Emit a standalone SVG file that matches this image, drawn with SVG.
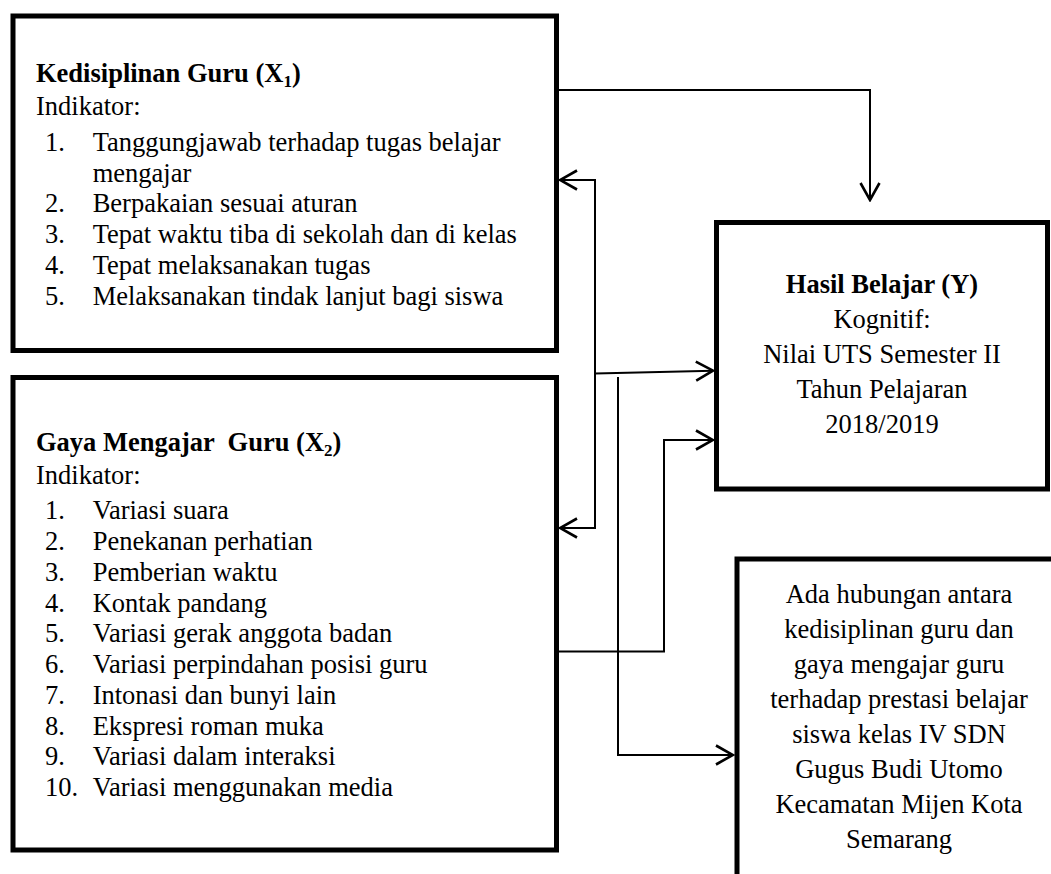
<svg xmlns="http://www.w3.org/2000/svg" width="1051" height="874" viewBox="0 0 1051 874">
  <style>
    .box { fill: #ffffff; stroke: #000000; stroke-width: 5; }
    .t { font-family: "Liberation Serif", "Times New Roman", serif; font-size: 26.5px; fill: #000000; }
    .b { font-weight: bold; }
    .c { text-anchor: middle; }
    .sub { font-size: 17px; }
    .conn { fill: none; stroke: #000000; stroke-width: 2; }
  </style>
  <defs>
    <marker id="arrow" markerUnits="userSpaceOnUse" viewBox="-20 -12 22 24" refX="0" refY="0" markerWidth="22" markerHeight="24" orient="auto-start-reverse">
      <path d="M-17,-9.5 L0,0 L-17,9.5" fill="none" stroke="#000000" stroke-width="2.6"/>
    </marker>
  </defs>
  <rect x="0" y="0" width="1051" height="874" fill="#ffffff"/>

  <g id="node-x1">
    <rect class="box" x="13" y="16" width="543.5" height="334.5"/>
    <text class="t b" x="36" y="81.7">Kedisiplinan Guru (X<tspan class="sub" dy="5">1</tspan><tspan dy="-5">)</tspan></text>
    <text class="t" x="36" y="115">Indikator:</text>
    <text class="t" x="45" y="150.7">1.</text>
    <text class="t" x="92.7" y="150.7">Tanggungjawab terhadap tugas belajar</text>
    <text class="t" x="92.7" y="181.5">mengajar</text>
    <text class="t" x="45" y="212.3">2.</text>
    <text class="t" x="92.7" y="212.3">Berpakaian sesuai aturan</text>
    <text class="t" x="45" y="243.1">3.</text>
    <text class="t" x="92.7" y="243.1">Tepat waktu tiba di sekolah dan di kelas</text>
    <text class="t" x="45" y="273.9">4.</text>
    <text class="t" x="92.7" y="273.9">Tepat melaksanakan tugas</text>
    <text class="t" x="45" y="304.7">5.</text>
    <text class="t" x="92.7" y="304.7">Melaksanakan tindak lanjut bagi siswa</text>
  </g>

  <g id="node-x2">
    <rect class="box" x="13" y="377.5" width="543.5" height="472.5"/>
    <text class="t b" x="36" y="450.7" xml:space="preserve">Gaya Mengajar  Guru (X<tspan class="sub" dy="5">2</tspan><tspan dy="-5">)</tspan></text>
    <text class="t" x="36" y="484">Indikator:</text>
    <text class="t" x="45" y="519.3">1.</text>
    <text class="t" x="92.7" y="519.3">Variasi suara</text>
    <text class="t" x="45" y="550">2.</text>
    <text class="t" x="92.7" y="550">Penekanan perhatian</text>
    <text class="t" x="45" y="580.8">3.</text>
    <text class="t" x="92.7" y="580.8">Pemberian waktu</text>
    <text class="t" x="45" y="611.5">4.</text>
    <text class="t" x="92.7" y="611.5">Kontak pandang</text>
    <text class="t" x="45" y="642.3">5.</text>
    <text class="t" x="92.7" y="642.3">Variasi gerak anggota badan</text>
    <text class="t" x="45" y="673">6.</text>
    <text class="t" x="92.7" y="673">Variasi perpindahan posisi guru</text>
    <text class="t" x="45" y="703.8">7.</text>
    <text class="t" x="92.7" y="703.8">Intonasi dan bunyi lain</text>
    <text class="t" x="45" y="734.5">8.</text>
    <text class="t" x="92.7" y="734.5">Ekspresi roman muka</text>
    <text class="t" x="45" y="765.3">9.</text>
    <text class="t" x="92.7" y="765.3">Variasi dalam interaksi</text>
    <text class="t" x="45" y="796">10.</text>
    <text class="t" x="92.7" y="796">Variasi menggunakan media</text>
  </g>

  <g id="node-y">
    <rect class="box" x="716.5" y="222.5" width="331" height="266.5"/>
    <text class="t b c" x="882" y="292.7">Hasil Belajar (Y)</text>
    <text class="t c" x="882" y="327.7">Kognitif:</text>
    <text class="t c" x="882" y="362.7">Nilai UTS Semester II</text>
    <text class="t c" x="882" y="397.7">Tahun Pelajaran</text>
    <text class="t c" x="882" y="432.7">2018/2019</text>
  </g>

  <g id="node-conclusion">
    <rect class="box" x="737" y="559" width="420" height="400"/>
    <text class="t c" x="899" y="602.7">Ada hubungan antara</text>
    <text class="t c" x="899" y="637.8">kedisiplinan guru dan</text>
    <text class="t c" x="899" y="672.9">gaya mengajar guru</text>
    <text class="t c" x="899" y="708">terhadap prestasi belajar</text>
    <text class="t c" x="899" y="743.1">siswa kelas IV SDN</text>
    <text class="t c" x="899" y="778.2">Gugus Budi Utomo</text>
    <text class="t c" x="899" y="813.3">Kecamatan Mijen Kota</text>
    <text class="t c" x="899" y="848.4">Semarang</text>
  </g>

  <g id="connectors">
    <path class="conn" d="M559,90 H870 V200" marker-end="url(#arrow)"/>
    <path class="conn" d="M560,180 H595 V528 H560" marker-start="url(#arrow)" marker-end="url(#arrow)"/>
    <path class="conn" d="M595,373.5 L713,370.7" marker-end="url(#arrow)"/>
    <path class="conn" d="M618,377 V755 H733" marker-end="url(#arrow)"/>
    <path class="conn" d="M559,651.5 H664 V440 H713" marker-end="url(#arrow)"/>
  </g>
</svg>
